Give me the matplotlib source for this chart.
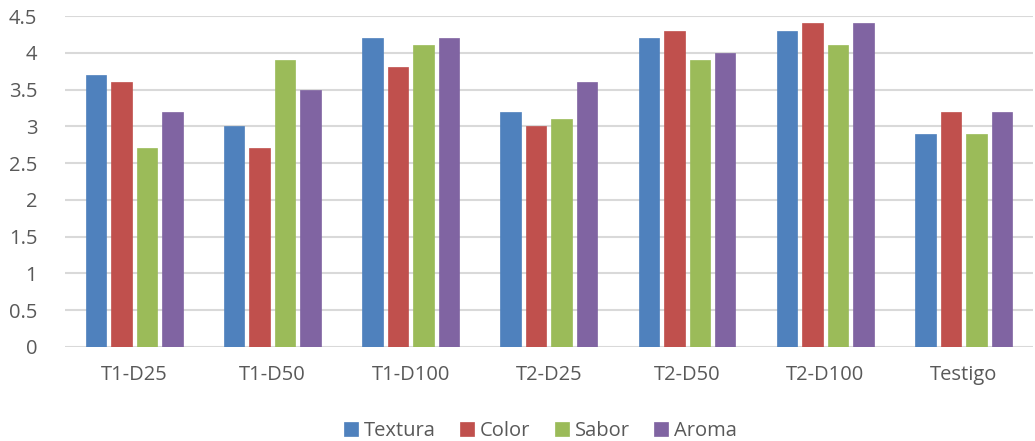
import matplotlib
matplotlib.use("Agg")
import matplotlib.pyplot as plt
import numpy as np

categories = ["T1-D25", "T1-D50", "T1-D100", "T2-D25", "T2-D50", "T2-D100", "Testigo"]
textura = [3.7, 3.0, 4.2, 3.2, 4.2, 4.3, 2.9]
color = [3.6, 2.7, 3.8, 3.0, 4.3, 4.4, 3.2]
sabor = [2.7, 3.9, 4.1, 3.1, 3.9, 4.1, 2.9]
aroma = [3.2, 3.5, 4.2, 3.6, 4.0, 4.4, 3.2]
series_names = ["Textura", "Color", "Sabor", "Aroma"]
series_colors = ["#4F81BD", "#C0504D", "#9BBB59", "#8064A2"]
y_ticks = [0, 0.5, 1, 1.5, 2, 2.5, 3, 3.5, 4, 4.5]
y_labels = ["0", "0.5", "1", "1.5", "2", "2.5", "3", "3.5", "4", "4.5"]

plt.rcParams["font.family"] = ["Open Sans", "DejaVu Sans"]
text_color = "#595959"
fs = 14.5

fig = plt.figure(figsize=(10.35, 4.41), dpi=100)
ax = fig.add_axes([0.0628, 0.2132, 0.935, 0.7505])

x = np.arange(len(categories))
step = 0.184
width = 0.148
for i, (vals, name, c) in enumerate(zip([textura, color, sabor, aroma], series_names, series_colors)):
    offs = (i - 1.5) * step
    ax.bar(x + offs, vals, width=width, color=c, label=name, zorder=3,
           edgecolor=c, linewidth=0.5)

ax.set_xlim(-0.5, len(categories) - 0.5)
ax.set_ylim(0, 4.5)
ax.set_yticks(y_ticks)
ax.set_yticklabels(y_labels)
ax.set_xticks(x)
ax.set_xticklabels(categories)
ax.grid(axis="y", color="#D9D9D9", linewidth=1.5, zorder=0)
for s in ax.spines.values():
    s.set_visible(False)
ax.tick_params(axis="both", length=0, colors=text_color, labelsize=fs)
ax.tick_params(axis="y", pad=20)
ax.tick_params(axis="x", pad=13)

leg = fig.legend(loc="center", bbox_to_anchor=(0.522, 0.022), ncol=4, frameon=False,
                 fontsize=fs, handlelength=0.7, handleheight=0.7,
                 handletextpad=0.3, columnspacing=1.2)
for t in leg.get_texts():
    t.set_color(text_color)

fig.savefig("out.png", dpi=100)
